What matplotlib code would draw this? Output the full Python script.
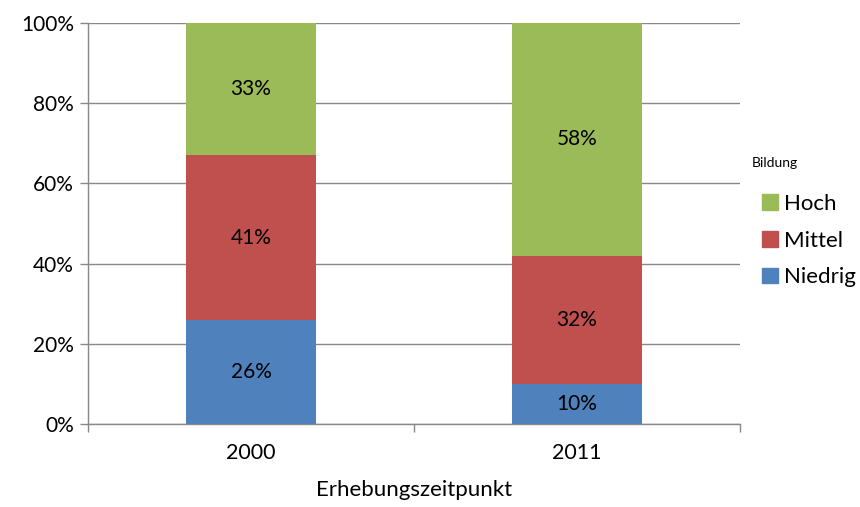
from matplotlib import pyplot as plt
from matplotlib.patches import Patch

# Data
years = ["2000", "2011"]
niedrig = [26, 10]
mittel = [41, 32]
hoch = [33, 58]

levels = ["Niedrig", "Mittel", "Hoch"]
colors = {"Niedrig": "#4F81BD", "Mittel": "#C0504D", "Hoch": "#9BBB59"}

plt.rcParams['font.family'] = ['Lato', 'DejaVu Sans']

fig = plt.figure(figsize=(8.6, 5.07), dpi=100)
ax = fig.add_axes([88 / 860, 83 / 507, 652 / 860, 401 / 507])

x = list(range(len(years)))
bottom = [0, 0]
for name, vals in zip(levels, [niedrig, mittel, hoch]):
    ax.bar(x, vals, width=0.4, bottom=bottom, color=colors[name],
           zorder=3, label=name)
    for i, v in enumerate(vals):
        ax.text(x[i], bottom[i] + v / 2, f"{v}%", ha="center",
                va="center", fontsize=15, zorder=4)
    bottom = [b + v for b, v in zip(bottom, vals)]

# Axes settings
ax.set_xlim(-0.5, 1.5)
ax.set_ylim(0, 100)
ax.set_yticks(range(0, 101, 20))
ax.set_yticklabels([f"{t}%" for t in range(0, 101, 20)], fontsize=15)
ax.yaxis.grid(True, color="#888888", linewidth=1, zorder=0)
ax.tick_params(axis="y", length=6, color="#888888", width=1, pad=4)

ax.set_xticks(x)
ax.set_xticklabels(years, fontsize=15.5)
ax.set_xticks([-0.5, 0.5, 1.5], minor=True)
ax.tick_params(axis="x", which="major", length=0, pad=14)
ax.tick_params(axis="x", which="minor", length=6, color="#888888", width=1)
ax.set_xlabel("Erhebungszeitpunkt", fontsize=16, labelpad=12)

for s in ["top", "right"]:
    ax.spines[s].set_visible(False)
for s in ["left", "bottom"]:
    ax.spines[s].set_color("#888888")
    ax.spines[s].set_linewidth(1)

# Legend
fig.text(752 / 860, 1 - 163 / 507, "Bildung", fontsize=10, va="center")
handles = [Patch(color=colors[n], label=n) for n in reversed(levels)]
fig.legend(handles=handles, loc="upper left",
           bbox_to_anchor=(742 / 860, 1 - 174 / 507), frameon=False,
           fontsize=16, handlelength=0.7, handleheight=0.7,
           handletextpad=0.3, labelspacing=0.75)

plt.savefig("out.png", dpi=100)
